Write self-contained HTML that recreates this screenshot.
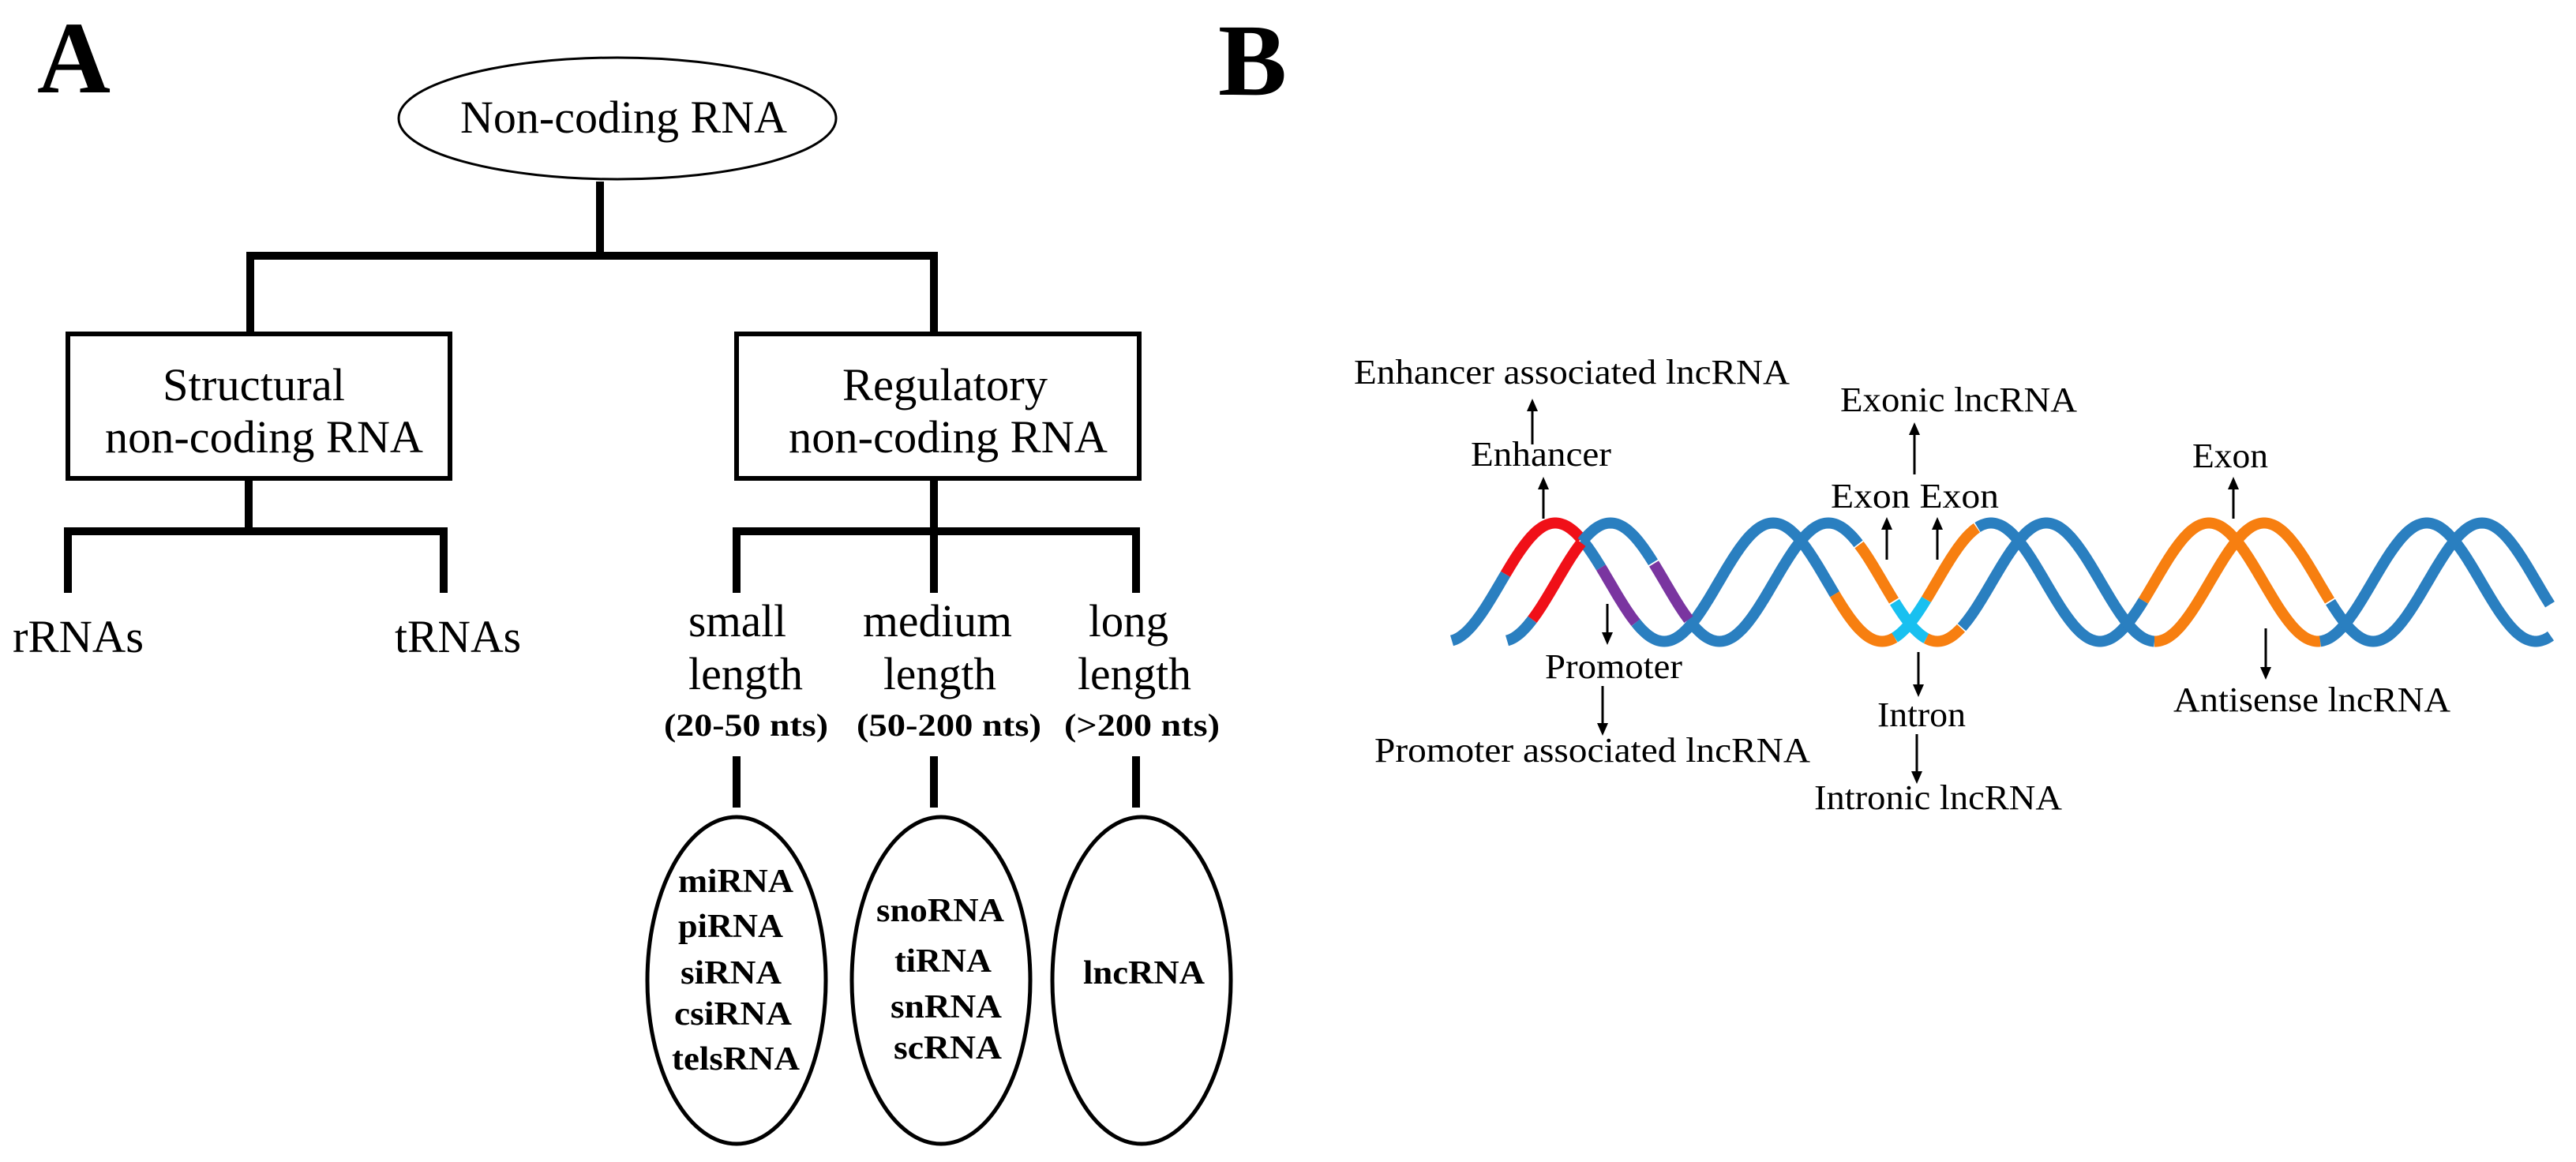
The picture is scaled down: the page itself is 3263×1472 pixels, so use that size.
<!DOCTYPE html>
<html><head><meta charset="utf-8"><style>
html,body{margin:0;padding:0;background:#fff;}
svg{display:block;}
text{font-family:"Liberation Serif",serif;fill:#000;}
</style></head><body>
<svg id="s" width="3263" height="1472" viewBox="0 0 3263 1472" xmlns="http://www.w3.org/2000/svg">
<text x="47" y="117" font-size="130" font-weight="bold" textLength="93" lengthAdjust="spacingAndGlyphs">A</text>
<text x="1543" y="120" font-size="130" font-weight="bold" textLength="87" lengthAdjust="spacingAndGlyphs">B</text>

<g stroke="#000" fill="none">
<ellipse cx="782" cy="150" rx="277" ry="77" stroke-width="3"/>
<g stroke-width="10">
<line x1="760" y1="230" x2="760" y2="324"/>
<line x1="312" y1="324" x2="1188" y2="324"/>
<line x1="317" y1="324" x2="317" y2="423"/>
<line x1="1183" y1="324" x2="1183" y2="423"/>
<line x1="315" y1="606" x2="315" y2="673"/>
<line x1="81" y1="673" x2="567" y2="673"/>
<line x1="86" y1="673" x2="86" y2="751"/>
<line x1="562" y1="673" x2="562" y2="751"/>
<line x1="1183" y1="606" x2="1183" y2="673"/>
<line x1="928" y1="673" x2="1444" y2="673"/>
<line x1="933" y1="673" x2="933" y2="751"/>
<line x1="1183" y1="673" x2="1183" y2="751"/>
<line x1="1439" y1="673" x2="1439" y2="751"/>
<line x1="933" y1="958" x2="933" y2="1023"/>
<line x1="1183" y1="958" x2="1183" y2="1023"/>
<line x1="1439" y1="958" x2="1439" y2="1023"/>
</g>
<rect x="86" y="423" width="484" height="183" stroke-width="6"/>
<rect x="933" y="423" width="510" height="183" stroke-width="6"/>
<ellipse cx="933" cy="1242" rx="113" ry="207" stroke-width="5"/>
<ellipse cx="1192" cy="1242" rx="113" ry="207" stroke-width="5"/>
<ellipse cx="1446" cy="1242" rx="113" ry="207" stroke-width="5"/>
</g>

<g font-size="58">
<text x="583" y="168" textLength="414" lengthAdjust="spacingAndGlyphs">Non-coding RNA</text>
<text x="206" y="507" textLength="231" lengthAdjust="spacingAndGlyphs">Structural</text>
<text x="133" y="573" textLength="403" lengthAdjust="spacingAndGlyphs">non-coding RNA</text>
<text x="1067" y="507" textLength="260" lengthAdjust="spacingAndGlyphs">Regulatory</text>
<text x="999" y="573" textLength="404" lengthAdjust="spacingAndGlyphs">non-coding RNA</text>
<text x="16" y="826" textLength="166" lengthAdjust="spacingAndGlyphs">rRNAs</text>
<text x="500" y="826" textLength="160" lengthAdjust="spacingAndGlyphs">tRNAs</text>
<text x="872" y="806" textLength="124" lengthAdjust="spacingAndGlyphs">small</text>
<text x="1093" y="806" textLength="189" lengthAdjust="spacingAndGlyphs">medium</text>
<text x="1379" y="806" textLength="101" lengthAdjust="spacingAndGlyphs">long</text>
<text x="872" y="873" textLength="145" lengthAdjust="spacingAndGlyphs">length</text>
<text x="1119" y="873" textLength="143" lengthAdjust="spacingAndGlyphs">length</text>
<text x="1365" y="873" textLength="144" lengthAdjust="spacingAndGlyphs">length</text>
</g>
<g font-size="40" font-weight="bold">
<text x="841" y="932" textLength="208" lengthAdjust="spacingAndGlyphs">(20-50 nts)</text>
<text x="1085" y="932" textLength="234" lengthAdjust="spacingAndGlyphs">(50-200 nts)</text>
<text x="1348" y="932" textLength="197" lengthAdjust="spacingAndGlyphs">(&gt;200 nts)</text>
</g>
<g font-size="42" font-weight="bold">
<text x="859" y="1130" textLength="146" lengthAdjust="spacingAndGlyphs">miRNA</text>
<text x="859" y="1187" textLength="133" lengthAdjust="spacingAndGlyphs">piRNA</text>
<text x="862" y="1246" textLength="128" lengthAdjust="spacingAndGlyphs">siRNA</text>
<text x="854" y="1298" textLength="149" lengthAdjust="spacingAndGlyphs">csiRNA</text>
<text x="851" y="1355" textLength="162" lengthAdjust="spacingAndGlyphs">telsRNA</text>
<text x="1110" y="1167" textLength="162" lengthAdjust="spacingAndGlyphs">snoRNA</text>
<text x="1133" y="1231" textLength="123" lengthAdjust="spacingAndGlyphs">tiRNA</text>
<text x="1128" y="1289" textLength="141" lengthAdjust="spacingAndGlyphs">snRNA</text>
<text x="1132" y="1341" textLength="137" lengthAdjust="spacingAndGlyphs">scRNA</text>
<text x="1372" y="1246" textLength="154" lengthAdjust="spacingAndGlyphs">lncRNA</text>
</g>

<g id="helix" fill="none" stroke-width="14" stroke-linecap="butt"></g>

<g font-size="44">
<text x="1715" y="486" textLength="552" lengthAdjust="spacingAndGlyphs">Enhancer associated lncRNA</text>
<text x="1863" y="590" textLength="178" lengthAdjust="spacingAndGlyphs">Enhancer</text>
<text x="2331" y="521" textLength="300" lengthAdjust="spacingAndGlyphs">Exonic lncRNA</text>
<text x="2319" y="643" textLength="213" lengthAdjust="spacingAndGlyphs">Exon Exon</text>
<text x="2777" y="592" textLength="96" lengthAdjust="spacingAndGlyphs">Exon</text>
<text x="1957" y="859" textLength="174" lengthAdjust="spacingAndGlyphs">Promoter</text>
<text x="1741" y="965" textLength="552" lengthAdjust="spacingAndGlyphs">Promoter associated lncRNA</text>
<text x="2378" y="920" textLength="112" lengthAdjust="spacingAndGlyphs">Intron</text>
<text x="2298" y="1025" textLength="314" lengthAdjust="spacingAndGlyphs">Intronic lncRNA</text>
<text x="2753" y="901" textLength="351" lengthAdjust="spacingAndGlyphs">Antisense lncRNA</text>
</g>
<g id="arrows" stroke="#000" stroke-width="3" fill="#000"></g>
</svg>
<script>
(function(){
var NS="http://www.w3.org/2000/svg";
var h=document.getElementById("helix");
var cy=737.5,A=75,P=276;
function y(x,p0){return cy-A*Math.cos(2*Math.PI*(x-p0)/P);}
function seg(x0,x1,p0,col){
  var d="";for(var x=x0;x<=x1+0.001;x+=2){var xx=Math.min(x,x1);d+=(d?"L":"M")+xx.toFixed(1)+" "+y(xx,p0).toFixed(1);}
  var p=document.createElementNS(NS,"path");p.setAttribute("d",d);p.setAttribute("stroke",col);h.appendChild(p);
}
var B="#2a7fc0",O="#f77f10",R="#f01018",Pu="#7a35a0",C="#18c0f0";
function strand(start,end,p0,segs){
  var x=start;
  segs.forEach(function(s){ if(s[0]>x) seg(x,s[0],p0,B); seg(s[0],s[1],p0,s[2]); x=s[1]; });
  if(end>x) seg(x,end,p0,B);
}
strand(1839,3231,1970,[[1907,2004,R],[2028,2072,Pu],[2324,2400,O],[2400,2440,C],[2440,2505,O],[2715,2939,O]]);
strand(1909,3231,2040,[[1941,2004,R],[2095,2140,Pu],[2355,2400,O],[2400,2440,C],[2440,2485,O],[2729,2952,O]]);
var g=document.getElementById("arrows");
function arrow(x,y1,y2){ // from y1 to y2, head at y2
  var l=document.createElementNS(NS,"line");
  var dir=y2<y1?1:-1;
  l.setAttribute("x1",x);l.setAttribute("y1",y1);l.setAttribute("x2",x);l.setAttribute("y2",y2+dir*10);g.appendChild(l);
  var p=document.createElementNS(NS,"polygon");
  p.setAttribute("points",x+","+y2+" "+(x-7)+","+(y2+dir*16)+" "+(x+7)+","+(y2+dir*16));p.setAttribute("stroke","none");g.appendChild(p);
}
arrow(1941,563,505);
arrow(1955,657,604);
arrow(2425,601,535);
arrow(2390,709,655);
arrow(2454,709,655);
arrow(2829,657,604);
arrow(2036,765,817);
arrow(2030,869,932);
arrow(2430,826,883);
arrow(2428,930,993);
arrow(2870,796,861);
})();
</script>
</body></html>
